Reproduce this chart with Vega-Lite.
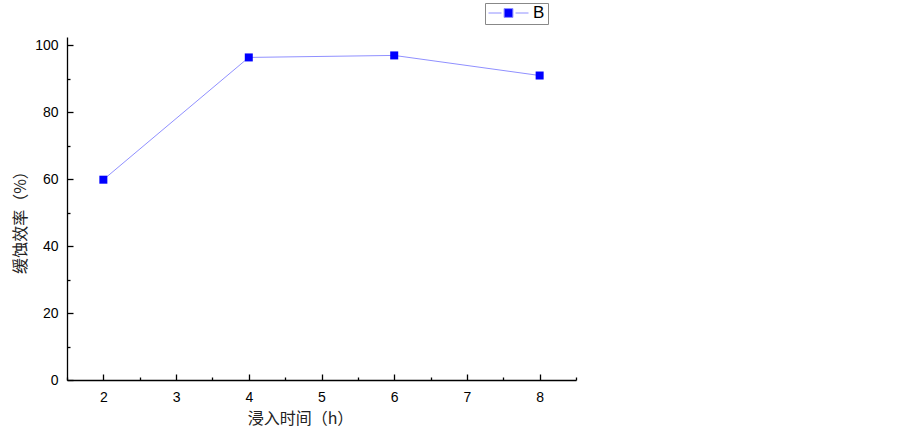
{
  "$schema": "https://vega.github.io/schema/vega-lite/v6.json",
  "width": 509,
  "height": 343,
  "autosize": "none",
  "padding": {"left": 67, "top": 37, "right": 327, "bottom": 47},
  "background": "white",
  "config": {"view": {"stroke": null}},
  "data": {"values": [
    {"t": 2, "e": 59.8, "s": "B"},
    {"t": 4, "e": 96.3, "s": "B"},
    {"t": 6, "e": 96.9, "s": "B"},
    {"t": 8, "e": 90.9, "s": "B"}
  ]},
  "encoding": {
    "x": {"field": "t", "type": "quantitative",
      "scale": {"domain": [1.5, 8.5], "nice": false, "zero": false},
      "axis": {"values": [1.5, 2, 2.5, 3, 3.5, 4, 4.5, 5, 5.5, 6, 6.5, 7, 7.5, 8, 8.5],
        "labelExpr": "datum.value % 1 === 0 ? datum.value : ''",
        "title": "浸入时间（h）", "titleFont": "Noto Sans CJK SC", "titleFontSize": 16, "titleFontWeight": "normal", "titleColor": "#222",
        "titleX": 233, "titleY": 38, "titleAlign": "center", "titleBaseline": "middle",
        "labelFont": "Liberation Sans", "labelFontSize": 14, "labelColor": "black", "labelPadding": 16,
        "domainColor": "black", "domainWidth": 1.3, "tickColor": "black", "tickWidth": 1.3,
        "tickSize": {"condition": {"test": "datum.value % 1 === 0", "value": -6}, "value": -3},
        "grid": false, "labelFlush": false, "labelOverlap": false}
    },
    "y": {"field": "e", "type": "quantitative",
      "scale": {"domain": [0, 102.4], "nice": false},
      "axis": {"values": [0, 10, 20, 30, 40, 50, 60, 70, 80, 90, 100],
        "labelExpr": "datum.value % 20 === 0 ? datum.value : ''",
        "title": "缓蚀效率（%）", "titleFont": "Noto Sans CJK SC", "titleFontSize": 16, "titleFontWeight": "normal", "titleColor": "#222",
        "titleX": -47, "titleY": 181, "titleAlign": "center", "titleBaseline": "middle", "titleAngle": -90,
        "labelFont": "Liberation Sans", "labelFontSize": 14, "labelColor": "black", "labelPadding": 15,
        "domainColor": "black", "domainWidth": 1.3, "tickColor": "black", "tickWidth": 1.3,
        "tickSize": {"condition": {"test": "datum.value % 20 === 0", "value": -6}, "value": -3},
        "grid": false, "labelOverlap": false}
    }
  },
  "layer": [
    {"mark": {"type": "line", "color": "#9090ff", "strokeWidth": 1}},
    {"mark": {"type": "square", "size": 64, "opacity": 1, "filled": true},
      "encoding": {
        "color": {"field": "s", "type": "nominal", "scale": {"range": ["#0000ff"]},
          "legend": {"orient": "none", "legendX": 418, "legendY": -34, "title": null,
            "strokeColor": "#888", "padding": 3, "symbolType": "M-1,0H-0.35M0.35,0H1M-0.22,-0.22H0.22V0.22H-0.22Z",
            "symbolSize": 1600, "symbolStrokeColor": "#9090ff", "symbolFillColor": "#0000ff", "symbolStrokeWidth": 1,
            "clipHeight": 14, "symbolOffset": 0,
            "labelFont": "Liberation Sans", "labelFontSize": 17, "labelColor": "black"}}
      }}
  ]
}
